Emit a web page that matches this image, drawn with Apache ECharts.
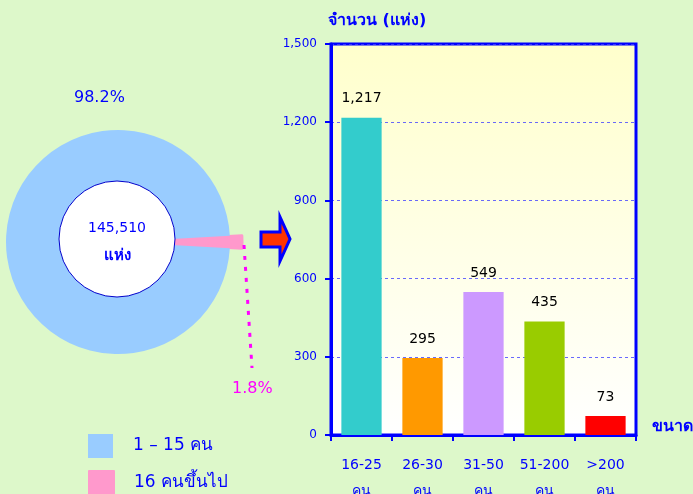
<!DOCTYPE html>
<html><head><meta charset="utf-8">
<script src="https://cdn.jsdelivr.net/npm/echarts@6/dist/echarts.min.js"></script>
<style>html,body{margin:0;padding:0;background:#DDF8CA;}#c{width:693px;height:494px;}</style>
</head><body><div id="c"></div>
<script>
const categories = ['16-25\nคน', '26-30\nคน', '31-50\nคน', '51-200\nคน', '>200\nคน'];
const barValues = [1217, 295, 549, 435, 73];
const barColors = ['#33CCCC', '#FF9900', '#CC99FF', '#99CC00', '#FF0000'];
const pieNames = ['16 คนขึ้นไป', '1 – 15 คน'];
const pieValues = [1.8, 98.2];
const pieColors = ['#FF99CC', '#99CCFF'];
const totalText = '145,510';
const yTicks = [0, 300, 600, 900, 1200, 1500];

const FONT = '"DejaVu Sans", Tahoma, "Noto Sans", sans-serif';
const BLUE = '#0000FF';
const chart = echarts.init(document.getElementById('c'));

const legendBase = {
  orient: 'vertical', left: 88, padding: 0,
  icon: 'rect', itemWidth: 25, itemHeight: 24,
  textStyle: { color: BLUE, fontSize: 17, fontFamily: FONT, padding: [0, 0, 0, 15] },
  selectedMode: false
};

const option = {
  backgroundColor: '#DDF8CA',
  animation: false,
  textStyle: { fontFamily: FONT },
  legend: [
    Object.assign({}, legendBase, { top: 434, data: [pieNames[1]] }),
    Object.assign({}, legendBase, { top: 470, data: [pieNames[0]] })
  ],
  grid: {
    left: 331, top: 44, right: 57, bottom: 59,
    outerBoundsMode: 'none', containLabel: false,
    show: true, borderColor: BLUE, borderWidth: 3,
    backgroundColor: new echarts.graphic.LinearGradient(0, 0, 0, 1, [
      { offset: 0, color: '#FFFFCC' }, { offset: 1, color: '#FFFFFF' }
    ])
  },
  xAxis: {
    type: 'category', data: categories,
    name: 'ขนาด', nameLocation: 'end', nameGap: 16,
    nameTextStyle: { color: BLUE, fontSize: 16, fontWeight: 'bold', verticalAlign: 'bottom', align: 'left', padding: [0, 0, 0, 0] },
    axisLine: { lineStyle: { color: BLUE, width: 3 } },
    axisTick: { show: true, length: 6, lineStyle: { color: BLUE, width: 2 } },
    axisLabel: { color: BLUE, fontSize: 14, margin: 17, lineHeight: 26, fontFamily: FONT, interval: 0 }
  },
  yAxis: {
    type: 'value', min: 0, max: 1500, interval: 300,
    name: 'จำนวน (แห่ง)', nameLocation: 'end', nameGap: 15,
    nameTextStyle: { color: BLUE, fontSize: 16, fontWeight: 'bold', align: 'left', padding: [0, 0, 0, -3] },
    axisLine: { show: true, lineStyle: { color: BLUE, width: 3 } },
    axisTick: { show: true, length: 6, lineStyle: { color: BLUE, width: 2 } },
    axisLabel: { color: BLUE, fontSize: 12, margin: 14, fontFamily: FONT,
      formatter: v => v.toLocaleString('en-US') },
    splitLine: { show: true, lineStyle: { color: '#4444FF', type: [3, 3], width: 1, opacity: 0.8 } }
  },
  series: [
    {
      type: 'bar', barWidth: '66%',
      data: barValues.map((v, i) => ({ value: v, itemStyle: { color: barColors[i] } })),
      label: { show: true, position: 'top', distance: 12, color: '#000', fontSize: 14, fontFamily: FONT,
        formatter: p => p.value.toLocaleString('en-US') }
    },
    {
      type: 'pie', center: [118, 242], radius: [0, 112],
      startAngle: 3.24, clockwise: true,
      selectedMode: 'single', selectedOffset: 12,
      data: pieNames.map((n, i) => ({ name: n, value: pieValues[i], selected: i === 0,
        itemStyle: i === 0 ? { color: pieColors[i], borderColor: pieColors[i], borderWidth: 3 } : { color: pieColors[i] } })),
      emphasis: { disabled: true },
      label: { show: false },
      labelLine: { show: false }
    },
    {
      type: 'pie', center: [117, 239], radius: [0, 58], silent: true,
      data: [{ name: 'total', value: 1 }],
      itemStyle: { color: '#FFFFFF', borderColor: '#0000CC', borderWidth: 1 },
      label: { show: true, position: 'center', color: BLUE, fontSize: 14, lineHeight: 28, fontFamily: FONT, padding: [7, 0, 0, 0],
        formatter: totalText + '\n{b|แห่ง}', rich: { b: { color: BLUE, fontSize: 15, fontWeight: 'bold', lineHeight: 28 } } },
      labelLine: { show: false }, emphasis: { disabled: true }
    }
  ],
  graphic: [
    {
      type: 'polygon', z: 10,
      shape: { points: [[261, 232], [280, 232], [280, 217], [290, 239], [280, 261], [280, 247], [261, 247]] },
      style: { fill: '#FF3300', stroke: BLUE, lineWidth: 3 }
    },
    {
      type: 'polyline', z: 10,
      shape: { points: [[244, 245], [252, 368]] },
      style: { stroke: '#FF00FF', lineWidth: 3, lineDash: [4, 7], fill: null }
    },
    {
      type: 'text', z: 10, left: 74, top: 90,
      style: { text: pieValues[1].toFixed(1) + '%', fill: BLUE, fontSize: 16, fontFamily: FONT }
    },
    {
      type: 'text', z: 10, left: 232, top: 381,
      style: { text: pieValues[0].toFixed(1) + '%', fill: '#FF00FF', fontSize: 16, fontFamily: FONT }
    }
  ]
};
chart.setOption(option);
</script></body></html>
